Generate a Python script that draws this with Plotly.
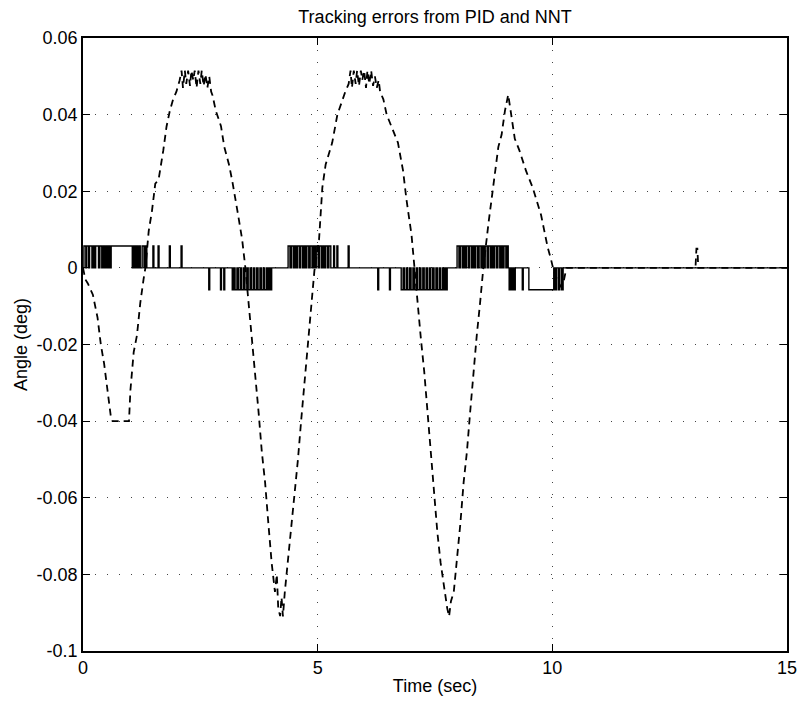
import plotly.graph_objects as go

# PID tracking error (dashed)
pid_t = [0, 0.05, 0.1, 0.21, 0.31, 0.38, 0.45, 0.52, 0.59, 0.63, 0.98, 1.01, 1.08, 1.15,
         1.22, 1.29, 1.33, 1.40, 1.47, 1.54, 1.61, 1.71, 1.78, 1.85, 1.92, 1.99,
         2.06, 2.10, 2.13, 2.17, 2.20, 2.24, 2.28, 2.31, 2.35, 2.38, 2.42, 2.46, 2.50,
         2.53, 2.57, 2.61, 2.65, 2.69, 2.73,
         2.76, 2.83, 2.94, 3.01, 3.11, 3.18, 3.29, 3.39, 3.46, 3.53, 3.60, 3.67, 3.74,
         3.81, 3.88, 3.95, 4.02, 4.09, 4.13, 4.16, 4.20, 4.23, 4.26, 4.30, 4.37, 4.44,
         4.51, 4.58, 4.65, 4.72, 4.79, 4.86, 4.93, 5.03, 5.10, 5.17, 5.31, 5.42, 5.52,
         5.59,
         5.66, 5.70, 5.73, 5.77, 5.81, 5.84, 5.88, 5.92, 5.95, 5.99, 6.03, 6.06, 6.10,
         6.14, 6.18, 6.22, 6.26, 6.30, 6.33,
         6.40, 6.47, 6.57, 6.71, 6.82, 6.89, 7.00, 7.06, 7.13, 7.20, 7.27, 7.34, 7.41,
         7.48, 7.55, 7.62, 7.69, 7.76, 7.80, 7.84, 7.90, 7.97, 8.04, 8.11, 8.18, 8.25,
         8.32, 8.39, 8.46, 8.53, 8.64, 8.71, 8.78, 8.85, 8.92, 8.99, 9.06, 9.13, 9.20,
         9.30, 9.44, 9.58, 9.65, 9.76, 9.83, 9.90, 9.97, 10.03, 10.10, 10.18, 10.25,
         10.30, 13.05, 13.07, 13.09, 13.11, 15]
pid_v = [0, -0.003, -0.004, -0.007, -0.013, -0.020, -0.025, -0.032, -0.0385, -0.040,
         -0.040, -0.032, -0.022, -0.0176, -0.0092, -0.003, 0.0, 0.0096, 0.0149, 0.022,
         0.023, 0.0306, 0.0369, 0.041, 0.044, 0.046,
         0.049, 0.0515, 0.047, 0.0515, 0.048, 0.0515, 0.0475, 0.0515, 0.049, 0.0515,
         0.047, 0.0515, 0.048, 0.0515, 0.0475, 0.0505, 0.047, 0.050, 0.046,
         0.045, 0.041, 0.037, 0.0316, 0.027, 0.0227, 0.0149, 0.0075, 0.0, -0.0092,
         -0.0176, -0.028, -0.0375, -0.048, -0.056, -0.0668, -0.077, -0.0846, -0.080,
         -0.0888, -0.0909, -0.086, -0.091, -0.0846, -0.076, -0.0657, -0.0584, -0.050,
         -0.0396, -0.030, -0.0197, -0.0092, -0.0008, 0.0075, 0.021, 0.027, 0.0327,
         0.040, 0.0437, 0.046,
         0.048, 0.0515, 0.047, 0.0515, 0.048, 0.0515, 0.0475, 0.0515, 0.049, 0.0515,
         0.047, 0.0515, 0.048, 0.0515, 0.0475, 0.050, 0.047, 0.049, 0.046,
         0.044, 0.040, 0.037, 0.0327, 0.0253, 0.018, 0.0086, 0.0, -0.0103, -0.0186,
         -0.027, -0.0375, -0.047, -0.0595, -0.069, -0.077, -0.0836, -0.0888, -0.091,
         -0.087, -0.0846, -0.076, -0.0668, -0.056, -0.048, -0.0375, -0.027, -0.0176,
         -0.0092, 0.0, 0.0117, 0.018, 0.0253, 0.0316, 0.0348, 0.041, 0.0452, 0.039,
         0.0337, 0.0306, 0.0253, 0.021, 0.018, 0.0138, 0.0096, 0.0054, 0.0023, -0.0008,
         -0.003, -0.005, -0.003, 0.0, 0.0, 0.005, 0.005, 0.0, 0.0]

# NNT tracking error (solid): quantised to one encoder step
nnt_step = 0.0057
pos_on = [0.02, 0.08, 0.14, 0.22, 0.27, 0.36, 0.43, 0.49, 0.55, 0.60, 1.08, 1.13, 1.19,
          1.26, 1.33, 1.49, 1.60, 1.84, 2.09,
          4.37, 4.44, 4.51, 4.57, 4.64, 4.71, 4.77, 4.84, 4.91, 4.97, 5.04, 5.11, 5.17,
          5.24, 5.34, 5.41, 5.65,
          7.97, 8.04, 8.11, 8.17, 8.24, 8.31, 8.37, 8.44, 8.51, 8.57, 8.64, 8.71, 8.77,
          8.84, 8.91, 8.97, 9.03]
pos_off = [0.06, 0.12, 0.19, 0.25, 0.33, 0.40, 0.46, 0.52, 0.57, 1.05, 1.10, 1.16, 1.22,
           1.30, 1.36, 1.51, 1.62, 1.86, 2.11,
           4.41, 4.48, 4.54, 4.61, 4.68, 4.74, 4.81, 4.88, 4.94, 5.01, 5.08, 5.14, 5.21,
           5.28, 5.36, 5.43, 5.67,
           8.01, 8.08, 8.14, 8.21, 8.28, 8.34, 8.41, 8.48, 8.54, 8.61, 8.68, 8.74, 8.81,
           8.88, 8.94, 9.01, 9.06]
neg_on = [2.68, 2.93, 3.00, 3.18, 3.24, 3.31, 3.38, 3.45, 3.52, 3.59, 3.66, 3.73, 3.80,
          3.87, 3.94, 3.99,
          6.28, 6.53, 6.78, 6.85, 6.92, 6.99, 7.06, 7.13, 7.20, 7.27, 7.34, 7.41, 7.48,
          7.55, 7.62, 7.69, 7.74,
          9.08, 9.14, 9.19, 9.36, 9.50, 10.06, 10.13, 10.20]
neg_off = [2.70, 2.95, 3.02, 3.21, 3.28, 3.35, 3.42, 3.49, 3.56, 3.63, 3.70, 3.77, 3.84,
           3.91, 3.97, 4.02,
           6.30, 6.55, 6.82, 6.89, 6.96, 7.03, 7.10, 7.17, 7.24, 7.31, 7.38, 7.45, 7.52,
           7.59, 7.66, 7.72, 7.76,
           9.11, 9.17, 9.21, 9.38, 10.03, 10.09, 10.16, 10.23]

x_ticks = [0, 5, 10, 15]
y_ticks = [-0.1, -0.08, -0.06, -0.04, -0.02, 0, 0.02, 0.04, 0.06]
y_labels = ["-0.1", "-0.08", "-0.06", "-0.04", "-0.02", "0", "0.02", "0.04", "0.06"]

# build the step signal from the pulse edges
pulses = [(a, b, nnt_step) for a, b in zip(pos_on, pos_off)]
pulses += [(a, b, -nnt_step) for a, b in zip(neg_on, neg_off)]
pulses.sort()
nnt_t, nnt_v = [0], [0]
for a, b, lvl in pulses:
    nnt_t += [a, b]
    nnt_v += [lvl, 0]
nnt_t.append(15)
nnt_v.append(0)

fig = go.Figure()
fig.add_trace(go.Scatter(x=pid_t, y=pid_v, mode="lines", name="PID",
                         line=dict(color="black", width=1.8, dash="7px,5px")))
fig.add_trace(go.Scatter(x=nnt_t, y=nnt_v, mode="lines", name="NNT", line_shape="hv",
                         line=dict(color="black", width=1.4)))

axis_common = dict(showline=True, linecolor="black", linewidth=1.6, mirror="ticks",
                   ticks="inside", ticklen=7, tickwidth=1.3, tickcolor="black",
                   showgrid=True, gridcolor="#444", gridwidth=1, griddash="1px,11px",
                   zeroline=False, tickfont=dict(size=18, color="black"))

fig.update_xaxes(range=[0, 15], tickvals=x_ticks, title_text="Time (sec)",
                 title_font=dict(size=18, color="black"), title_standoff=2, **axis_common)
fig.update_yaxes(range=[-0.1, 0.06], tickvals=y_ticks, ticktext=y_labels,
                 title_text="Angle (deg)", title_font=dict(size=18, color="black"),
                 title_standoff=4, **axis_common)

# the page body adds an 8px margin, so the figure is 8px smaller each way
fig.update_layout(
    width=801, height=697,
    margin=dict(l=72, r=12, t=30, b=53),
    paper_bgcolor="white", plot_bgcolor="white",
    showlegend=False,
    font=dict(family="Liberation Sans, Arial, sans-serif", color="black"),
    title=dict(text="Tracking errors from PID and NNT", xref="paper", x=0.5,
               xanchor="center", yref="container", y=0.987, yanchor="middle",
               font=dict(size=18, color="black")),
)

fig.write_html("out.html")
